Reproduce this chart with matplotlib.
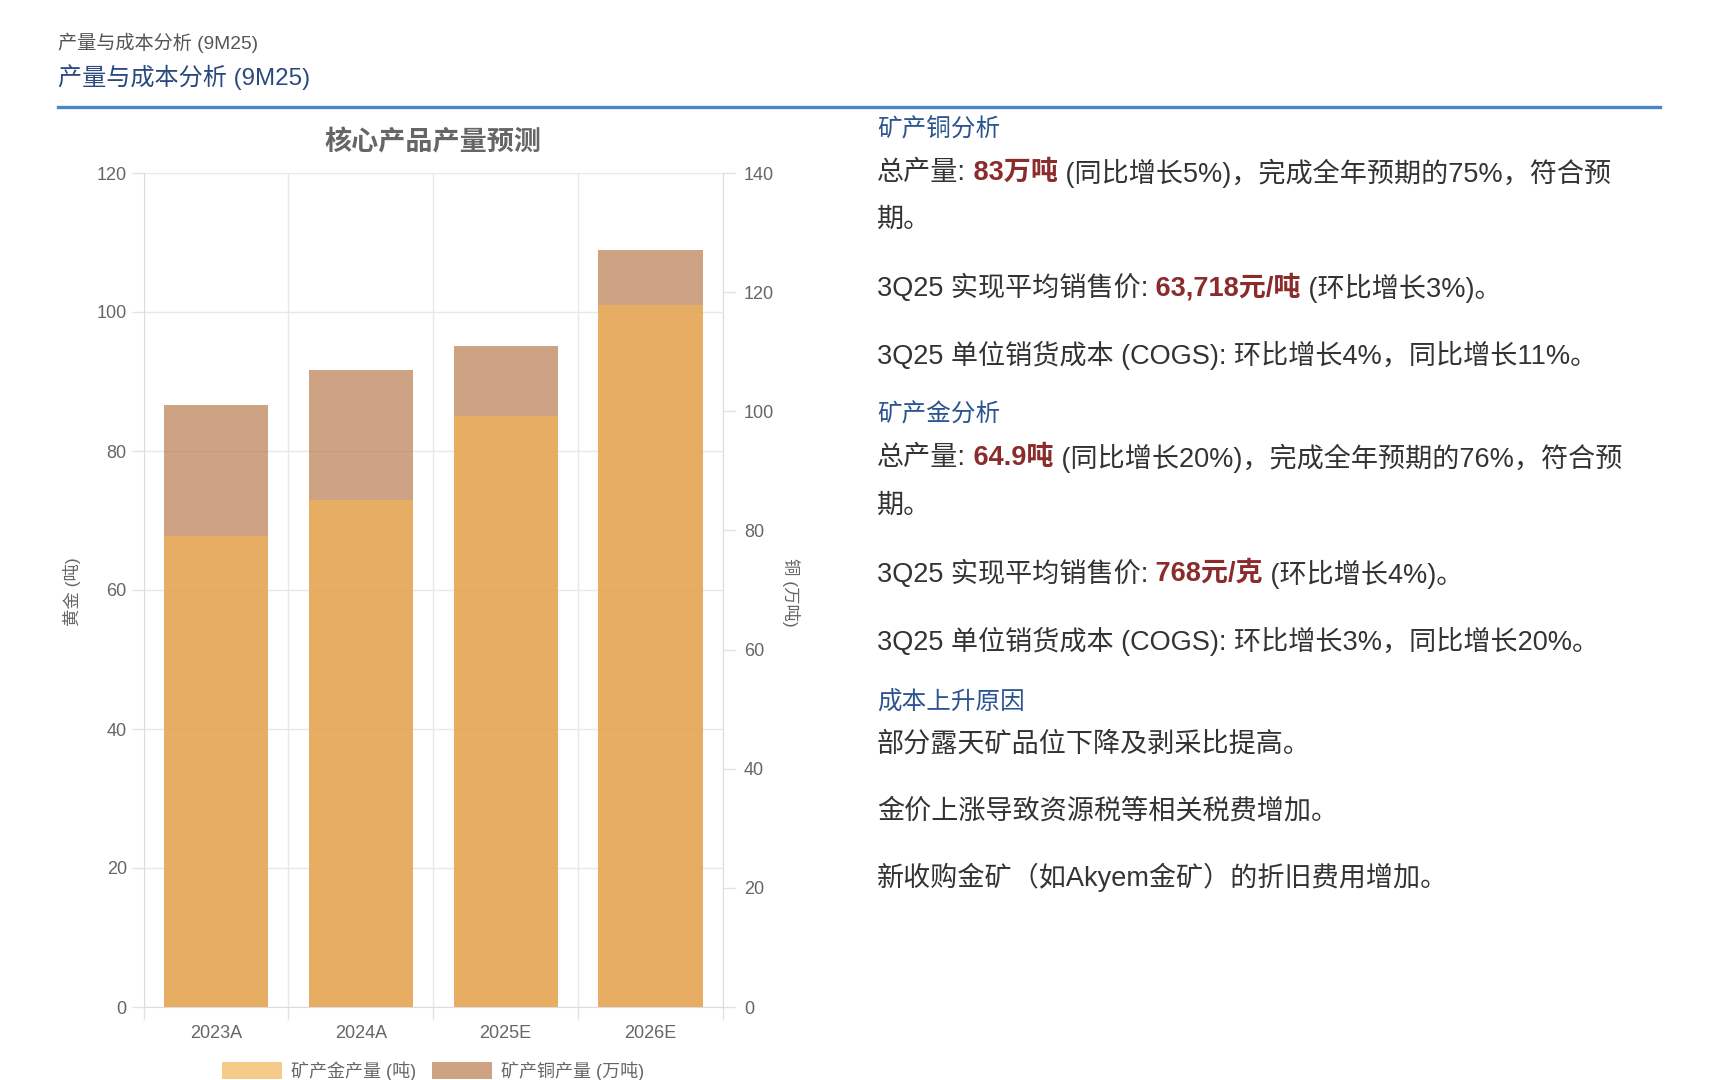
import matplotlib
matplotlib.use("Agg")
import matplotlib.pyplot as plt
from matplotlib.patches import Patch
from matplotlib.lines import Line2D
import numpy as np

plt.rcParams['font.family'] = ['Liberation Sans', 'Noto Sans CJK SC', 'DejaVu Sans']

# --- data ---
years = ["2023A", "2024A", "2025E", "2026E"]
gold_t = [67.7, 73, 85, 101]        # 黄金 (吨), left axis
copper_wt = [101, 107, 111, 127]    # 铜 (万吨), right axis
gold_ticks = np.arange(0, 121, 20)
copper_ticks = np.arange(0, 141, 20)

GRAY, RED, BLUE = "#333333", "#8B2C2C", "#2C5590"

copper_lines = [
    [("总产量:", GRAY, False), (" 83万吨", RED, True),
     (" (同比增长5%)，完成全年预期的75%，符合预", GRAY, False)],
    [("期。", GRAY, False)],
    [("3Q25 实现平均销售价:", GRAY, False), (" 63,718元/吨", RED, True),
     (" (环比增长3%)。", GRAY, False)],
    [("3Q25 单位销货成本 (COGS): 环比增长4%，同比增长11%。", GRAY, False)],
]
gold_lines = [
    [("总产量:", GRAY, False), (" 64.9吨", RED, True),
     (" (同比增长20%)，完成全年预期的76%，符合预", GRAY, False)],
    [("期。", GRAY, False)],
    [("3Q25 实现平均销售价:", GRAY, False), (" 768元/克", RED, True),
     (" (环比增长4%)。", GRAY, False)],
    [("3Q25 单位销货成本 (COGS): 环比增长3%，同比增长20%。", GRAY, False)],
]
cost_lines = [
    [("部分露天矿品位下降及剥采比提高。", GRAY, False)],
    [("金价上涨导致资源税等相关税费增加。", GRAY, False)],
    [("新收购金矿（如Akyem金矿）的折旧费用增加。", GRAY, False)],
]

W, H = 1709, 1080
fig = plt.figure(figsize=(W / 100, H / 100), dpi=100)
fig.patch.set_facecolor("white")


def fx(x):
    return x / W


def fy(y):
    return 1 - y / H


# header
fig.text(fx(58), fy(43), "产量与成本分析 (9M25)", fontsize=13.8, color="#555555", va="center")
fig.text(fx(58), fy(77), "产量与成本分析 (9M25)", fontsize=17.4, color="#2A4A7F", va="center")
fig.add_artist(Line2D([fx(58), fx(1660)], [fy(107), fy(107)], color="#4A86C8", lw=2.4))

# chart area
L, R, T, B = 143.5, 723, 173, 1007
ax = fig.add_axes([fx(L), fy(B), (R - L) / W, (B - T) / H])
x = np.arange(len(years))

ax.set_xlim(-0.5, len(years) - 0.5)
ax.set_ylim(0, 120)
ax.set_yticks(gold_ticks)
ax.set_xticks(x)
ax.set_xticklabels(years)
ax.set_xticks(np.arange(-0.5, len(years), 1), minor=True)
ax.tick_params(axis='x', which='major', length=0, pad=13, labelsize=13, labelcolor="#666666")
ax.tick_params(axis='x', which='minor', length=9, color="#e3e3e3", width=1)
ax.tick_params(axis='y', length=9, color="#e3e3e3", width=1, pad=3, labelsize=13, labelcolor="#666666")
ax.grid(axis='y', color="#e8e8e8", lw=1)
ax.grid(axis='x', which='minor', color="#e8e8e8", lw=1)
for s in ["top", "right"]:
    ax.spines[s].set_visible(False)
for s in ["left", "bottom"]:
    ax.spines[s].set_color("#dcdcdc")

gold_c = "#F2B256"
copper_c = "#BA7C4F"

ax_cu = ax.twinx()
ax_cu.set_ylim(0, 140)
ax_cu.set_yticks(copper_ticks)
ax_cu.bar(x, copper_wt, width=0.72, color=copper_c, alpha=0.7, linewidth=0)
ax_cu.tick_params(axis='y', length=9, color="#e3e3e3", width=1, pad=6, labelsize=13, labelcolor="#666666")
for s in ["top", "left", "bottom"]:
    ax_cu.spines[s].set_visible(False)
ax_cu.spines["right"].set_color("#dcdcdc")

ax_au = ax.twinx()
ax_au.set_ylim(0, 120)
ax_au.bar(x, gold_t, width=0.72, color=gold_c, alpha=0.7, linewidth=0)
ax_au.axis("off")

fig.text(fx((L + R) / 2), fy(143), "核心产品产量预测", fontsize=19.5, fontweight="bold",
         color="#666666", ha="center", va="center")
fig.text(fx(72), fy(592), "黄金 (吨)", rotation=90, fontsize=12.5, color="#666666",
         ha="center", va="center")
fig.text(fx(791), fy(592), "铜 (万吨)", rotation=270, fontsize=12.5, color="#666666",
         ha="center", va="center")

fig.legend(handles=[Patch(facecolor=gold_c, alpha=0.7, edgecolor="none"),
                    Patch(facecolor=copper_c, alpha=0.7, edgecolor="none")],
           labels=["矿产金产量 (吨)", "矿产铜产量 (万吨)"],
           loc="upper center", bbox_to_anchor=(fx((L + R) / 2), fy(1061)), ncol=2,
           frameon=False, fontsize=13, handlelength=3.3, handleheight=1.1,
           handletextpad=0.5, columnspacing=0.9, borderaxespad=0, borderpad=0,
           labelcolor="#666666")

# right-hand text
renderer = fig.canvas.get_renderer()


def rich(x0, y, parts, size=19.5):
    xx = x0
    for s, col, bold in parts:
        t = fig.text(fx(xx), fy(y), s, fontsize=size, color=col,
                     fontweight="bold" if bold else "normal", va="center_baseline")
        xx += t.get_window_extent(renderer).width


TX = 877
fig.text(fx(TX), fy(127), "矿产铜分析", fontsize=17.7, color=BLUE, va="center_baseline")
for yy, parts in zip([170, 217, 285, 352], copper_lines):
    rich(TX, yy, parts)
fig.text(fx(TX), fy(412), "矿产金分析", fontsize=17.7, color=BLUE, va="center_baseline")
for yy, parts in zip([455, 503, 571, 638], gold_lines):
    rich(TX, yy, parts)
fig.text(fx(TX), fy(699), "成本上升原因", fontsize=17.7, color=BLUE, va="center_baseline")
for yy, parts in zip([742, 809, 874], cost_lines):
    rich(TX, yy, parts)

fig.savefig("out.png", dpi=100, facecolor="white")
